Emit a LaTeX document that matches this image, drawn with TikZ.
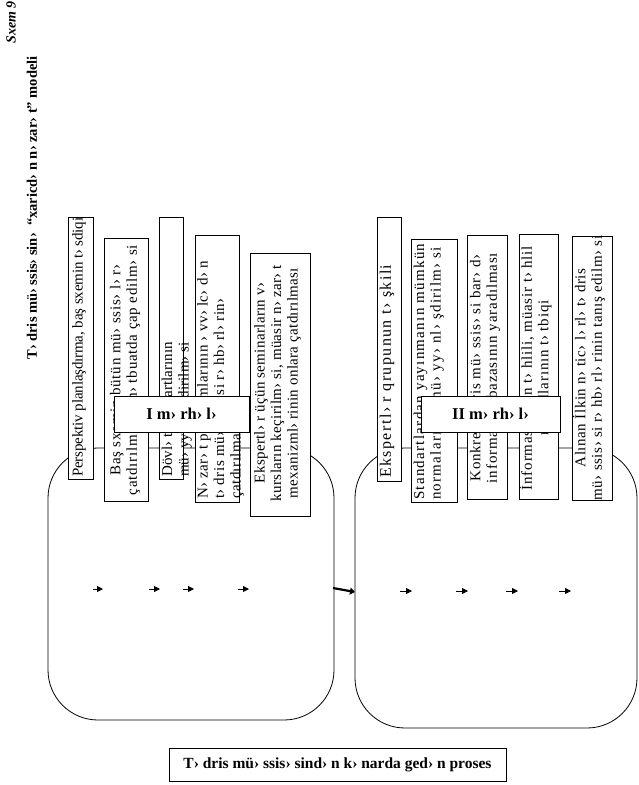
\documentclass[tikz,border=0pt]{standalone}
\usepackage{fontspec}
\setmainfont{Liberation Serif}
\usetikzlibrary{arrows.meta}
\tikzset{
  frame/.style={draw, line width=0.8pt, rounded corners=50pt, inner sep=0pt},
  boxr/.style={draw, fill=white, line width=0.8pt, inner sep=0pt},
  btext/.style={rotate=90, inner sep=0pt, font={\fontsize{15}{16.5}\selectfont\addfontfeature{LetterSpace=#1}}},
  btext/.default=0,
  stagebox/.style={draw, fill=white, line width=0.8pt, inner sep=0pt, font=\bfseries\fontsize{16.5}{19}\selectfont},
  smallarrow/.style={-{Triangle[length=6pt,width=6pt]}, line width=0.8pt},
  bigarrow/.style={-{Triangle[length=5pt,width=7pt]}, line width=2.2pt},
}
\begin{document}
\begin{tikzpicture}[x=1pt,y=-1pt]
\useasboundingbox (0,0) rectangle (638,785);

% titles
\node[rotate=90, inner sep=0pt, anchor=east, font=\bfseries\itshape\fontsize{14}{16}\selectfont] (sxem) at (11,1) {Sxem 9};
\node[rotate=90, inner sep=0pt, font=\bfseries\fontsize{14.5}{17}\selectfont] (title) at (32,208) {T› dris mü› ssis› sin›\ \ “xaricd› n n› zar› t” modeli};

% big rounded frames
\node[frame, minimum width=286pt, minimum height=272pt] (L) at (191,584) {};
\node[frame, minimum width=282pt, minimum height=280pt] (R) at (496,588) {};

% arrows
\coordinate (a1s) at (93,589);  \coordinate (a1e) at (103,589);
\coordinate (a2s) at (149,589); \coordinate (a2e) at (160,589);
\coordinate (a3s) at (183,589); \coordinate (a3e) at (194,589);
\coordinate (a4s) at (238,589); \coordinate (a4e) at (249,589);
\coordinate (b1s) at (400,591); \coordinate (b1e) at (412,591);
\coordinate (b2s) at (456,591); \coordinate (b2e) at (468,591);
\coordinate (b3s) at (506,591); \coordinate (b3e) at (518,591);
\coordinate (b4s) at (559,591); \coordinate (b4e) at (571,591);
\draw[smallarrow] (a1s) -- (a1e);
\draw[smallarrow] (a2s) -- (a2e);
\draw[smallarrow] (a3s) -- (a3e);
\draw[smallarrow] (a4s) -- (a4e);
\draw[smallarrow] (b1s) -- (b1e);
\draw[smallarrow] (b2s) -- (b2e);
\draw[smallarrow] (b3s) -- (b3e);
\draw[smallarrow] (b4s) -- (b4e);
\coordinate (ta) at (333,588); \coordinate (tb) at (355,592);
\draw[bigarrow] (ta) -- (tb);

% ---- stage I boxes
\node[boxr, minimum width=25pt, minimum height=262pt] (p1) at (80.5,348) {};
\node[btext=-1, anchor=west, align=left] (p1t) at (79,477) {Perspektiv planlaşdırma, baş sxemin t› sdiqi};

\node[boxr, minimum width=44pt, minimum height=263pt] (p2) at (126,369.5) {};
\node[btext=5, align=center] (p2t) at (125,370) {Baş sxemin bütün mü› ssis› l› r›\\çatdırılm› sı, m› tbuatda çap edilm› si};

\node[boxr, minimum width=24pt, minimum height=262pt] (p3) at (171,348) {};
\node[btext=0.5, anchor=north west, align=left] (p3t) at (161.5,477) {Dövl› t standartlarının\\mü› yy› nl› şdirilm› si};

\node[boxr, minimum width=44pt, minimum height=267pt] (p4) at (217,368.5) {};
\node[btext=3, anchor=north west, align=left] (p4t) at (197,499) {N› zar› t proqramlarının › vv› lc› d› n\\t› dris mü› ssis› si r› hb› rl› rin›\\çatdırılması};

\node[boxr, minimum width=60pt, minimum height=263pt] (p5) at (280,384.5) {};
\node[btext=2.2, align=center] (p5t) at (277.5,383) {Ekspertl› r üçün seminarların v›\\kursların keçirilm› si, müasir n› zar› t\\mexanizml› rinin onlara çatdırılması};

\node[stagebox, minimum width=135pt, minimum height=36pt] (s1) at (181.5,414) {I m› rh› l›};

% ---- stage II boxes
\node[boxr, minimum width=24pt, minimum height=264pt] (q1) at (389,349) {};
\node[rotate=90, inner sep=0pt, anchor=west, font={\fontsize{16}{17}\selectfont\addfontfeature{LetterSpace=9}}] (q1t) at (387,478) {Ekspertl› r qrupunun t› şkili};

\node[boxr, minimum width=46pt, minimum height=263pt] (q2) at (434,370.5) {};
\node[btext=8.5, anchor=north west, align=left] (q2t) at (413.5,500) {Standartlardan yayınmanın mümkün\\normalarının mü› yy› nl› şdirilm› si};

\node[boxr, minimum width=40pt, minimum height=264pt] (q3) at (487,367) {};
\node[btext=5.4, align=center] (q3t) at (485,368) {Konkret t› dris mü› ssis› si bar› d›\\informasiya bazasının yaradılması};

\node[boxr, minimum width=39pt, minimum height=265pt] (q4) at (538.5,366.5) {};
\node[btext=5.4, align=center] (q4t) at (535.5,368) {İnformasiyanın t› hlili, müasir t› hlil\\metodlarının t› tbiqi};

\node[boxr, minimum width=40pt, minimum height=264pt] (q5) at (592,368) {};
\node[btext=3.9, align=center] (q5t) at (589,368) {Alınan İlkin n› tic› l› rl› t› dris\\mü› ssis› si r› hb› rl› rinin tanış edilm› si};

\node[stagebox, minimum width=139pt, minimum height=36pt] (s2) at (490.5,414) {II m› rh› l›};

% bottom caption
\node[draw, line width=0.8pt, inner sep=0pt, minimum width=337pt, minimum height=33pt, font=\bfseries\fontsize{15.5}{18}\selectfont] (proc) at (337.5,764.5) {T› dris mü› ssis› sind› n k› narda ged› n proses};
\end{tikzpicture}
\end{document}
